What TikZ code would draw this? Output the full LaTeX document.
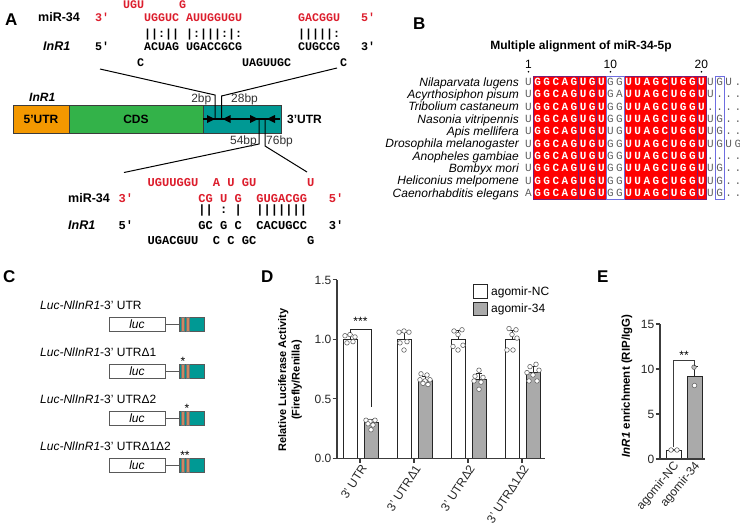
\documentclass[tikz,border=0pt]{standalone}
\usepackage{fontspec}
\setmainfont{Liberation Sans}
\newfontfamily\seqfont{Liberation Mono}

\definecolor{utrorange}{RGB}{243,152,0}
\definecolor{cdsgreen}{RGB}{51,178,73}
\definecolor{utrteal}{RGB}{0,153,148}
\definecolor{seqred}{RGB}{220,30,45}
\definecolor{alnred}{RGB}{255,0,0}
\definecolor{alnframe}{RGB}{120,30,120}
\definecolor{alnblue}{RGB}{110,110,225}
\definecolor{respink}{RGB}{235,80,80}
\definecolor{resgray}{RGB}{95,95,95}
\definecolor{stripe}{RGB}{205,135,95}
\definecolor{bargray}{RGB}{170,170,170}
\definecolor{axisgray}{RGB}{60,60,60}

\newcommand\ap{\char"27\relax}
\newcommand\gres{G}

\tikzset{
  panel/.style={font=\fontsize{17}{20}\selectfont\bfseries, inner sep=0, anchor=base west},
  seqtop/.style={font=\seqfont\bfseries\fontsize{11.67}{13}\selectfont, inner sep=0, anchor=base west},
  seqbot/.style={font=\seqfont\bfseries\fontsize{12.08}{13}\selectfont, inner sep=0, anchor=base west},
  rnalbl/.style={font=\fontsize{12.5}{14}\selectfont\bfseries, inner sep=0, anchor=base west},
  txt/.style={inner sep=0, anchor=base},
  res/.style={font=\seqfont\fontsize{11}{12}\selectfont, inner sep=0, anchor=base, text=resgray},
  resw/.style={font=\seqfont\bfseries\fontsize{11}{12}\selectfont, inner sep=0, anchor=base, text=white},
  resp/.style={res, text=respink},
  bar/.style={draw=black!85, line width=1},
  dotpt/.style={draw=black!60, fill=white, line width=0.6},
  axis/.style={draw=axisgray, line width=1.2},
}

% residue in a similarity column: G in pink, anything else in gray
\newcommand\alnvar[3]{%
  \edef\tmpres{#3}%
  \ifx\tmpres\gres
    \node[resp] at ({528.5+9.1*(#1-1)},{85.6+12.3*(#2-1)}) {#3};%
  \else
    \node[res] at ({528.5+9.1*(#1-1)},{85.6+12.3*(#2-1)}) {#3};%
  \fi}

\begin{document}
\fontsize{12}{14}\selectfont
\begin{tikzpicture}[x=1pt,y=-1pt]
\useasboundingbox (0,0) rectangle (740,528);

% ===== Panel letters =====
\node[panel] (pA) at (5,25) {A};
\node[panel] (pB) at (413,29) {B};
\node[panel] (pC) at (3,282) {C};
\node[panel] (pD) at (261,282) {D};
\node[panel] (pE) at (597,282) {E};

% ===== A: first duplex (columns 7pt wide from x=95) =====
\foreach \c/\s in {4/UGU,12/G}
  \node[seqtop,seqred] at ({95+7*\c},8.5) {\s};
\node[rnalbl] (mirA) at (38,21.5) {miR-34};
\foreach \c/\s in {0/3\ap,7/UGGUC,13/AUUGGUGU,29/GACGGU,38/5\ap}
  \node[seqtop,seqred] at ({95+7*\c},21) {\s};
\foreach \c/\s in {7/||:||,13/|:|||:|:,29/|||||:}
  \node[seqtop] at ({95+7*\c},37.5) {\s};
\node[rnalbl,font=\fontsize{12.5}{14}\selectfont\bfseries\itshape] (inrA) at (43,50.5) {InR1};
\foreach \c/\s in {0/5\ap,7/ACUAG,13/UGACCGCG,29/CUGCCG,38/3\ap}
  \node[seqtop] at ({95+7*\c},50) {\s};
\foreach \c/\s in {6/C,21/UAGUUGC,35/C}
  \node[seqtop] at ({95+7*\c},66) {\s};

% ===== A: gene model =====
\node[font=\bfseries\itshape, txt, anchor=base west] (gene) at (29,101) {InR1};
\draw[draw=axisgray, line width=1, fill=utrorange] (13,105) rectangle (69,133);
\draw[draw=axisgray, line width=1, fill=cdsgreen] (69,105) rectangle (203,133);
\draw[draw=axisgray, line width=1, fill=utrteal] (203,105) rectangle (281,133);
\node[txt, font=\bfseries] (utr5) at (41,123.3) {5’UTR};
\node[txt, font=\bfseries] (cds) at (136,123.3) {CDS};
\node[txt, font=\bfseries, anchor=base west] (utr3) at (287,123.3) {3’UTR};

% target sites in the 3'UTR
\draw[line width=1.8] (203,119) -- (280,119);
\fill (207,115) -- (215,119) -- (207,123) -- cycle;
\fill (230.7,115) -- (222.7,119) -- (230.7,123) -- cycle;
\fill (250,115) -- (258.3,119) -- (250,123) -- cycle;
\fill (275,115) -- (266.7,119) -- (275,123) -- cycle;
\draw[line width=1] (100,69) -- (215,95) -- (215,119);
\draw[line width=1] (337,68) -- (221.5,96) -- (221.5,119);
\draw[line width=1] (259,119) -- (259,144) -- (124,172.5);
\draw[line width=1] (265,119) -- (265,146) -- (307,172);
\node[txt, anchor=base east, text=black!80] (bp2) at (211.5,102.3) {2bp};
\node[txt, anchor=base west, text=black!80] (bp28) at (231,102.3) {28bp};
\node[txt, anchor=base east, text=black!80] (bp54) at (257,144.3) {54bp};
\node[txt, anchor=base west, text=black!80] (bp76) at (266,144.3) {76bp};

% ===== A: second duplex (columns 7.25pt wide from x=147.5) =====
\foreach \c/\s in {0/UGUUGGU,9/A,11/U,13/GU,22/U}
  \node[seqbot,seqred] at ({147.5+7.25*\c},186) {\s};
\node[rnalbl] (mirB) at (68,202.5) {miR-34};
\foreach \c/\s in {-4/3\ap,7/CG,10/U,12/G,15/GUGACGG,25/5\ap}
  \node[seqbot,seqred] at ({147.5+7.25*\c},202) {\s};
\foreach \c/\s in {7/||,10/:,12/|,15/|||||||}
  \node[seqbot] at ({147.5+7.25*\c},213.5) {\s};
\node[rnalbl,font=\fontsize{12.5}{14}\selectfont\bfseries\itshape] (inrB) at (68,229.5) {InR1};
\foreach \c/\s in {-4/5\ap,7/GC,10/G,12/C,15/CACUGCC,25/3\ap}
  \node[seqbot] at ({147.5+7.25*\c},229) {\s};
\foreach \c/\s in {0/UGACGUU,9/C,11/C,13/GC,22/G}
  \node[seqbot] at ({147.5+7.25*\c},244) {\s};

% ===== B: alignment of miR-34-5p =====
\node[txt, font=\bfseries] (alnt) at (581,49.3) {Multiple alignment of miR-34-5p};
\foreach \c in {1,10,20} {
  \node[txt] at ({528.5+9.1*(\c-1)},68.3) {\c};
  \fill ({528.5+9.1*(\c-1)},71.8) circle (0.9);
}
\fill[alnred] (533,76) rectangle (606,199);
\fill[alnred] (624,76) rectangle (706,199);
\foreach \c in {6,8,16,19}
  \draw[alnframe, line width=0.6] ({528.5+9.1*(\c-0.5)},76) -- ++(0,123);
\draw[alnframe, line width=0.8] (533,76) rectangle (606,199);
\draw[alnframe, line width=0.8] (624,76) rectangle (706,199);
\draw[alnblue, line width=0.8] (606,76) rectangle (624,199);
\draw[alnblue, line width=0.8] (715.1,76) rectangle (724.2,199);
% identical residues
\foreach \c/\l in {2/G,3/G,4/C,5/A,6/G,7/U,8/G,9/U,12/U,13/U,14/A,15/G,16/C,17/U,18/G,19/G,20/U}
  \foreach \r in {1,...,10}
    \node[resw] at ({528.5+9.1*(\c-1)},{85.6+12.3*(\r-1)}) {\l};
% species and variable columns
\foreach \r/\spname/\ca/\cj/\ck/\cu/\cv/\cw/\cx in {
    1/Nilaparvata lugens/U/G/G/U/G/U/.,
    2/Acyrthosiphon pisum/U/G/A/U/././.,
    3/Tribolium castaneum/U/G/G/./././.,
    4/Nasonia vitripennis/U/G/G/U/G/./.,
    5/Apis mellifera/U/U/G/U/G/./.,
    6/Drosophila melanogaster/U/G/G/U/G/U/G,
    7/Anopheles gambiae/U/G/G/./././.,
    8/Bombyx mori/U/G/G/U/G/./.,
    9/Heliconius melpomene/U/G/G/U/G/./.,
    10/Caenorhabditis elegans/A/G/G/U/G/./.} {
  \node[txt, anchor=base east, font=\itshape] at (519,{86.3+12.3*(\r-1)}) {\spname};
  \node[res] at (528.5,{85.6+12.3*(\r-1)}) {\ca};
  \alnvar{10}{\r}{\cj}
  \alnvar{11}{\r}{\ck}
  \node[res] at ({528.5+9.1*20},{85.6+12.3*(\r-1)}) {\cu};
  \alnvar{22}{\r}{\cv}
  \node[res] at ({528.5+9.1*22},{85.6+12.3*(\r-1)}) {\cw};
  \node[res] at ({528.5+9.1*23},{85.6+12.3*(\r-1)}) {\cx};
}

% ===== C: reporter constructs =====
\foreach \k/\t/\st/\sx in {0//,1/Δ1/*/183,2/Δ2/*/187,3/Δ1Δ2/**/185} {
  \node[txt, anchor=base west] at (40,{309.3+47*\k}) {\textit{Luc-NlInR1}-3’ UTR\t};
  \draw[draw=black!65, line width=0.9, fill=white] (109,{317+47*\k}) rectangle (165,{331+47*\k});
  \node[txt, font=\itshape] at (137,{328+47*\k}) {luc};
  \draw[black!65, line width=0.9] (165,{324+47*\k}) -- (179,{324+47*\k});
  \draw[draw=black!65, line width=0.9, fill=utrteal] (179,{317+47*\k}) rectangle (204,{331+47*\k});
  \draw[draw=black!55, line width=0.4, fill=stripe] (181.5,{317+47*\k}) rectangle (184,{331+47*\k});
  \draw[draw=black!55, line width=0.4, fill=stripe] (186.5,{317+47*\k}) rectangle (189,{331+47*\k});
  \node[txt] at (\sx,{318+47*\k}) {\st};
}

% ===== D: luciferase assay =====
\foreach \k/\w/\g/\we/\ge in {0/1.0/0.30/1.04/0.33, 1/1.0/0.655/1.06/0.69,
                             2/1.0/0.66/1.07/0.71, 3/1.0/0.725/1.07/0.77} {
  \draw[bar, fill=white] ({343+54*\k},458.3) rectangle ({357+54*\k},{458.3-119*\w});
  \draw[bar, fill=bargray] ({364+54*\k},458.3) rectangle ({378+54*\k},{458.3-119*\g});
  \draw[bar] ({350+54*\k},{458.3-119*\w}) -- ({350+54*\k},{458.3-119*\we})
             ++(-3,0) -- ++(6,0);
  \draw[bar] ({371+54*\k},{458.3-119*\g}) -- ({371+54*\k},{458.3-119*\ge})
             ++(-3,0) -- ++(6,0);
  \draw[axis] ({360+54*\k},458.3) -- ({360+54*\k},462.5);
}
% individual replicates
\foreach \dx/\v in {-5/1.03,0/1.04,5/1.02,-3/0.97,3/0.98}
  \draw[dotpt] ({350+\dx},{458.3-119*\v}) circle (2.3);
\foreach \dx/\v in {-5/0.32,-1/0.31,4/0.32,-3/0.29,2/0.28,0/0.24}
  \draw[dotpt] ({371+\dx},{458.3-119*\v}) circle (2.3);
\foreach \dx/\v in {-5/1.06,0/1.07,5/1.06,-4/0.97,3/0.98,0/0.91}
  \draw[dotpt] ({404+\dx},{458.3-119*\v}) circle (2.3);
\foreach \dx/\v in {-4/0.71,2/0.70,-5/0.66,0/0.65,5/0.66,-2/0.63,3/0.62}
  \draw[dotpt] ({425+\dx},{458.3-119*\v}) circle (2.3);
\foreach \dx/\v in {-4/1.07,4/1.08,0/1.04,-5/0.94,5/0.95,0/0.91}
  \draw[dotpt] ({458+\dx},{458.3-119*\v}) circle (2.3);
\foreach \dx/\v in {0/0.74,-4/0.69,4/0.68,-5/0.65,2/0.64,0/0.58}
  \draw[dotpt] ({479+\dx},{458.3-119*\v}) circle (2.3);
\foreach \dx/\v in {-3/1.09,4/1.08,0/1.04,5/1.01,-5/0.91,1/0.91}
  \draw[dotpt] ({512+\dx},{458.3-119*\v}) circle (2.3);
\foreach \dx/\v in {3/0.79,-3/0.77,6/0.74,-6/0.72,0/0.70,-4/0.65,4/0.65}
  \draw[dotpt] ({533+\dx},{458.3-119*\v}) circle (2.3);
% axes
\draw[axis] (337,280) -- (337,458.3) -- (545,458.3);
\foreach \v/\t in {0/0.0,0.5/0.5,1/1.0,1.5/1.5} {
  \draw[axis] (332.5,{458.3-119*\v}) -- (337,{458.3-119*\v});
  \node[txt, anchor=base east, text=black!85] at (331.5,{462.6-119*\v}) {\t};
}
\node[rotate=90, align=center, font=\fontsize{11}{13.5}\selectfont\bfseries] (ylabD) at (290,380)
  {Relative Luciferase Activity\\(Firefly/Renilla)};
\foreach \k/\t in {0/3’ UTR,1/3’ UTRΔ1,2/3’ UTRΔ2,3/3’ UTRΔ1Δ2}
  \node[rotate=57, anchor=east, inner sep=0, text=black!85] at ({364+54*\k},466) {\t};
% significance
\draw[bar, line width=0.9] (350,333) -- (350,329) -- (371,329) -- (371,407);
\node[txt] (sigD) at (360.5,325.5) {***};
% legend
\draw[bar, fill=white] (473,284) rectangle (487,298);
\node[txt, anchor=base west] (legNC) at (491,295.3) {agomir-NC};
\draw[bar, fill=bargray] (473,302) rectangle (487,315);
\node[txt, anchor=base west] (leg34) at (491,312.8) {agomir-34};

% ===== E: RIP enrichment =====
\draw[bar, fill=white] (666,459) rectangle (681,450);
\draw[bar, fill=bargray] (687,459) rectangle (702,376.2);
\draw[bar] (673.5,450) -- (673.5,449) ++(-3,0) -- ++(6,0);
\draw[bar] (694.5,376.2) -- (694.5,366.3) ++(-3,0) -- ++(6,0);
\draw[dotpt] (671,450) circle (2.3);
\draw[dotpt] (677,450) circle (2.3);
\draw[dotpt, fill=black!25] (694,367.2) circle (2.3);
\draw[dotpt] (694.5,385.5) circle (2.3);
\draw[axis] (660,324) -- (660,459) -- (705,459);
\foreach \v in {0,5,10,15} {
  \draw[axis] (655.5,{459-9*\v}) -- (660,{459-9*\v});
  \node[txt, anchor=base east, text=black!85] at (654.5,{463.3-9*\v}) {\v};
}
\draw[axisgray, line width=0.6] (673.5,447) -- (673.5,360) -- (694.5,360) -- (694.5,366);
\node[txt] (sigE) at (684,359.5) {**};
\node[rotate=90, font=\fontsize{11.5}{13}\selectfont\bfseries] (ylabE) at (627,386)
  {\textit{InR1} enrichment (RIP/IgG)};
\node[rotate=50, anchor=east, inner sep=0, text=black!85] (xNC) at (677,464) {agomir-NC};
\node[rotate=50, anchor=east, inner sep=0, text=black!85] (x34) at (698,464) {agomir-34};

\end{tikzpicture}
\end{document}
